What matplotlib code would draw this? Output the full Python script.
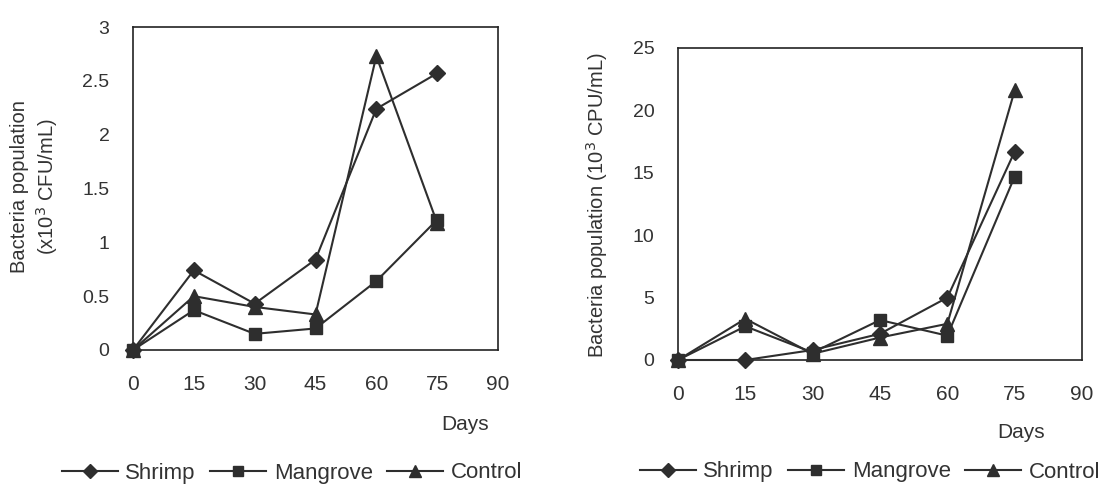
import matplotlib.pyplot as plt

plt.rcParams['font.family'] = ['Liberation Sans', 'DejaVu Sans']

days = [0, 15, 30, 45, 60, 75]
series = ["Shrimp", "Mangrove", "Control"]
markers = ["D", "s", "^"]

# left panel (x10^3 CFU/mL)
left_shrimp = [0, 0.74, 0.43, 0.84, 2.24, 2.57]
left_mangrove = [0, 0.37, 0.15, 0.20, 0.64, 1.21]
left_control = [0, 0.50, 0.40, 0.33, 2.73, 1.18]

# right panel (10^3 CPU/mL)
right_shrimp = [0, 0, 0.8, 2.1, 5.0, 16.7]
right_mangrove = [0, 2.7, 0.6, 3.2, 1.95, 14.7]
right_control = [0, 3.3, 0.5, 1.8, 2.9, 21.6]

W, H = 1117, 488
fig = plt.figure(figsize=(W / 100, H / 100), dpi=100)

def px_axes(x0, y0, x1, y1):
    # axes box from pixel corners (top-left origin)
    return fig.add_axes([x0 / W, 1 - y1 / H, (x1 - x0) / W, (y1 - y0) / H])

ax1 = px_axes(133, 27, 498, 350)
ax2 = px_axes(678, 48, 1082, 360)

col = "#2e2e2e"
txt = "#333333"

def draw(ax, data, ylim, yticks, yticklabels, ylabel, ylab_xy, days_xy, leg_xy):
    for vals, name, m in zip(data, series, markers):
        ms = {"D": 8, "s": 8.5, "^": 9.5}[m]
        ax.plot(days, vals, color=col, lw=1.5, marker=m, ms=ms,
                mfc=col, mec=col, label=name, clip_on=False, zorder=3)
    ax.set_xlim(0, 90)
    ax.set_ylim(*ylim)
    ax.set_xticks([0, 15, 30, 45, 60, 75, 90])
    ax.set_yticks(yticks)
    ax.set_yticklabels(yticklabels)
    ax.tick_params(length=0, colors=txt)
    ax.tick_params(axis="x", pad=18, labelsize=15)
    ax.tick_params(axis="y", pad=17, labelsize=14)
    for s in ax.spines.values():
        s.set_color("#222222")
        s.set_linewidth(1.2)
    fig.text(ylab_xy[0] / W, 1 - ylab_xy[1] / H, ylabel, rotation=90,
             fontsize=14.5, color=txt, ha="center", va="center",
             multialignment="center", linespacing=1.3)
    fig.text(days_xy[0] / W, 1 - days_xy[1] / H, "Days", fontsize=15,
             color=txt, ha="center", va="center")
    handles, labels = ax.get_legend_handles_labels()
    fig.legend(handles, labels, loc="center",
               bbox_to_anchor=(leg_xy[0] / W, 1 - leg_xy[1] / H),
               ncol=3, frameon=False, fontsize=16, handlelength=2.5,
               handletextpad=0.35, columnspacing=0.65, labelcolor=txt,
               borderpad=0.1, markerscale=0.85)

draw(ax1, [left_shrimp, left_mangrove, left_control], (0, 3),
     [0, 0.5, 1, 1.5, 2, 2.5, 3], ["0", "0.5", "1", "1.5", "2", "2.5", "3"],
     "Bacteria population\n(x10$^3$ CFU/mL)", (35, 187), (465, 425),
     (292, 473))
draw(ax2, [right_shrimp, right_mangrove, right_control], (0, 25),
     [0, 5, 10, 15, 20, 25], ["0", "5", "10", "15", "20", "25"],
     "Bacteria population (10$^3$ CPU/mL)", (597, 205), (1021, 433),
     (870, 472))

fig.savefig("out.png", dpi=100)
